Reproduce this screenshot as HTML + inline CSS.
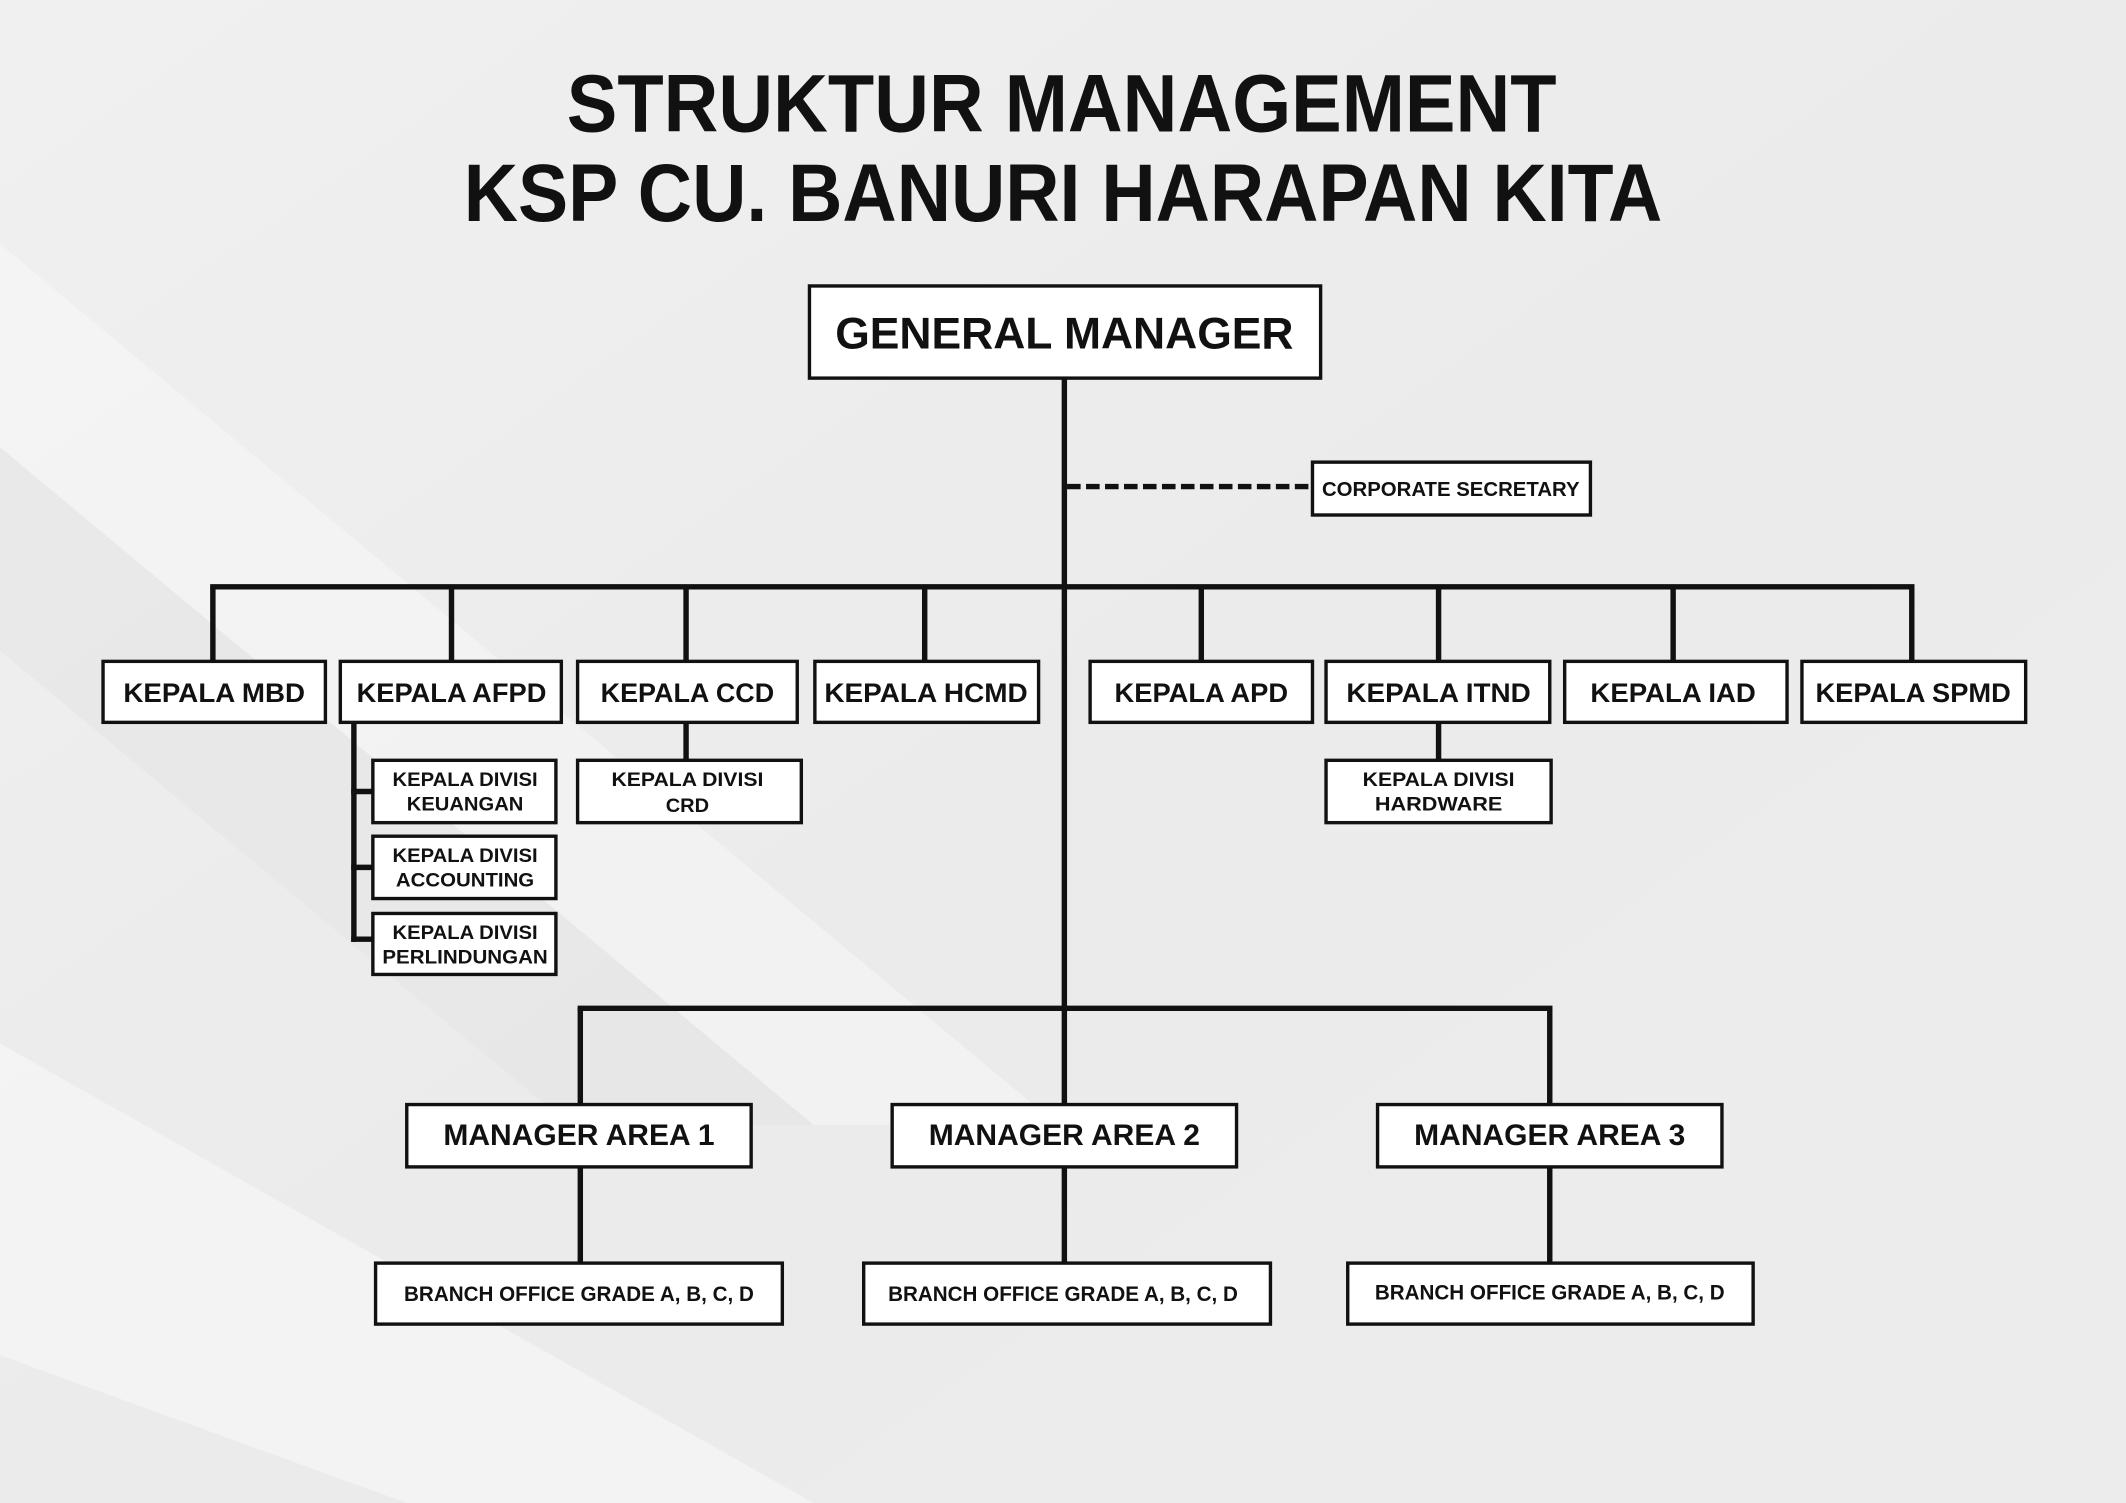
<!DOCTYPE html>
<html><head><meta charset="utf-8"><style>
html,body{margin:0;padding:0;background:#ececec;}
svg{display:block}
text{font-family:"Liberation Sans",sans-serif;font-weight:bold;fill:#111;text-anchor:middle}
</style></head><body>
<svg width="2126" height="1503" viewBox="0 0 1568 1109" preserveAspectRatio="none" xmlns="http://www.w3.org/2000/svg">
<defs>
<linearGradient id="bg" x1="0" y1="0" x2="1" y2="1">
<stop offset="0" stop-color="#f0f0f0"/><stop offset="0.5" stop-color="#ebebeb"/><stop offset="1" stop-color="#ececec"/>
</linearGradient>
</defs>
<rect width="1568" height="1109" fill="url(#bg)"/>
<polygon points="0,180 0,330 600,830 780,830" fill="#f6f6f6" opacity="0.6"/>
<polygon points="0,330 0,480 420,830 600,830" fill="#e4e4e4" opacity="0.5"/>
<polygon points="0,770 0,1000 300,1109 600,1109" fill="#f6f6f6" opacity="0.7"/>

<text x="783" y="97" font-size="60" textLength="730" lengthAdjust="spacingAndGlyphs">STRUKTUR MANAGEMENT</text>
<text x="784" y="163" font-size="60" textLength="884" lengthAdjust="spacingAndGlyphs">KSP CU. BANURI HARAPAN KITA</text>

<g stroke="#111" stroke-width="4" fill="none">
<line x1="785" y1="279" x2="785" y2="746"/>
<line x1="787" y1="359" x2="968" y2="359" stroke-dasharray="10,4"/>
<line x1="155" y1="433" x2="1412" y2="433"/>
<line x1="157" y1="433" x2="157" y2="488"/>
<line x1="333" y1="433" x2="333" y2="488"/>
<line x1="506" y1="433" x2="506" y2="488"/>
<line x1="682" y1="433" x2="682" y2="488"/>
<line x1="886" y1="433" x2="886" y2="488"/>
<line x1="1061" y1="433" x2="1061" y2="488"/>
<line x1="1234" y1="433" x2="1234" y2="488"/>
<line x1="1410" y1="433" x2="1410" y2="488"/>
<line x1="261" y1="533" x2="261" y2="695"/>
<line x1="259" y1="584" x2="275" y2="584"/>
<line x1="259" y1="640" x2="275" y2="640"/>
<line x1="259" y1="693" x2="275" y2="693"/>
<line x1="506" y1="533" x2="506" y2="561"/>
<line x1="1061" y1="533" x2="1061" y2="561"/>
<line x1="426" y1="744" x2="1145" y2="744"/>
<line x1="428" y1="744" x2="428" y2="815"/>
<line x1="1143" y1="744" x2="1143" y2="815"/>
<line x1="785" y1="744" x2="785" y2="815"/>
<line x1="428" y1="861" x2="428" y2="932"/>
<line x1="785" y1="861" x2="785" y2="932"/>
<line x1="1143" y1="861" x2="1143" y2="932"/>
</g>

<g fill="#fff" stroke="#111" stroke-width="2.5">
<rect x="597" y="211" width="377" height="68"/>
<rect x="968" y="341" width="205" height="39"/>
<rect x="76" y="488" width="164" height="45"/>
<rect x="251" y="488" width="163" height="45"/>
<rect x="426" y="488" width="162" height="45"/>
<rect x="601" y="488" width="165" height="45"/>
<rect x="804" y="488" width="164" height="45"/>
<rect x="978" y="488" width="165" height="45"/>
<rect x="1154" y="488" width="164" height="45"/>
<rect x="1329" y="488" width="165" height="45"/>
<rect x="275" y="561" width="135" height="46"/>
<rect x="275" y="617" width="135" height="46"/>
<rect x="275" y="674" width="135" height="45"/>
<rect x="426" y="561" width="165" height="46"/>
<rect x="978" y="561" width="166" height="46"/>
<rect x="300" y="815" width="254" height="46"/>
<rect x="658" y="815" width="254" height="46"/>
<rect x="1016" y="815" width="254" height="46"/>
<rect x="277" y="932" width="300" height="45"/>
<rect x="637" y="932" width="300" height="45"/>
<rect x="994" y="932" width="299" height="45"/>
</g>

<text x="785" y="257" font-size="33" textLength="338" lengthAdjust="spacingAndGlyphs">GENERAL MANAGER</text>
<text x="1070" y="366" font-size="15" textLength="190" lengthAdjust="spacingAndGlyphs">CORPORATE SECRETARY</text>

<g font-size="20">
<text x="158" y="518" textLength="134" lengthAdjust="spacingAndGlyphs">KEPALA MBD</text>
<text x="333" y="518" textLength="140" lengthAdjust="spacingAndGlyphs">KEPALA AFPD</text>
<text x="507" y="518" textLength="128" lengthAdjust="spacingAndGlyphs">KEPALA CCD</text>
<text x="683" y="518" textLength="150" lengthAdjust="spacingAndGlyphs">KEPALA HCMD</text>
<text x="886" y="518" textLength="128" lengthAdjust="spacingAndGlyphs">KEPALA APD</text>
<text x="1061" y="518" textLength="136" lengthAdjust="spacingAndGlyphs">KEPALA ITND</text>
<text x="1234" y="518" textLength="122" lengthAdjust="spacingAndGlyphs">KEPALA IAD</text>
<text x="1411" y="518" textLength="144" lengthAdjust="spacingAndGlyphs">KEPALA SPMD</text>
</g>

<g font-size="14.5">
<text x="343" y="580" textLength="107" lengthAdjust="spacingAndGlyphs">KEPALA DIVISI</text>
<text x="343" y="598" textLength="86" lengthAdjust="spacingAndGlyphs">KEUANGAN</text>
<text x="343" y="636" textLength="107" lengthAdjust="spacingAndGlyphs">KEPALA DIVISI</text>
<text x="343" y="654" textLength="102" lengthAdjust="spacingAndGlyphs">ACCOUNTING</text>
<text x="343" y="693" textLength="107" lengthAdjust="spacingAndGlyphs">KEPALA DIVISI</text>
<text x="343" y="711" textLength="122" lengthAdjust="spacingAndGlyphs">PERLINDUNGAN</text>
<text x="507" y="580" textLength="112" lengthAdjust="spacingAndGlyphs">KEPALA DIVISI</text>
<text x="507" y="599" textLength="32" lengthAdjust="spacingAndGlyphs">CRD</text>
<text x="1061" y="580" textLength="112" lengthAdjust="spacingAndGlyphs">KEPALA DIVISI</text>
<text x="1061" y="598" textLength="94" lengthAdjust="spacingAndGlyphs">HARDWARE</text>
</g>

<g font-size="22">
<text x="427" y="845" textLength="200" lengthAdjust="spacingAndGlyphs">MANAGER AREA 1</text>
<text x="785" y="845" textLength="200" lengthAdjust="spacingAndGlyphs">MANAGER AREA 2</text>
<text x="1143" y="845" textLength="200" lengthAdjust="spacingAndGlyphs">MANAGER AREA 3</text>
</g>
<g font-size="15.5">
<text x="427" y="960" textLength="258" lengthAdjust="spacingAndGlyphs">BRANCH OFFICE GRADE A, B, C, D</text>
<text x="784" y="960" textLength="258" lengthAdjust="spacingAndGlyphs">BRANCH OFFICE GRADE A, B, C, D</text>
<text x="1143" y="959" textLength="258" lengthAdjust="spacingAndGlyphs">BRANCH OFFICE GRADE A, B, C, D</text>
</g>
</svg>
</body></html>
